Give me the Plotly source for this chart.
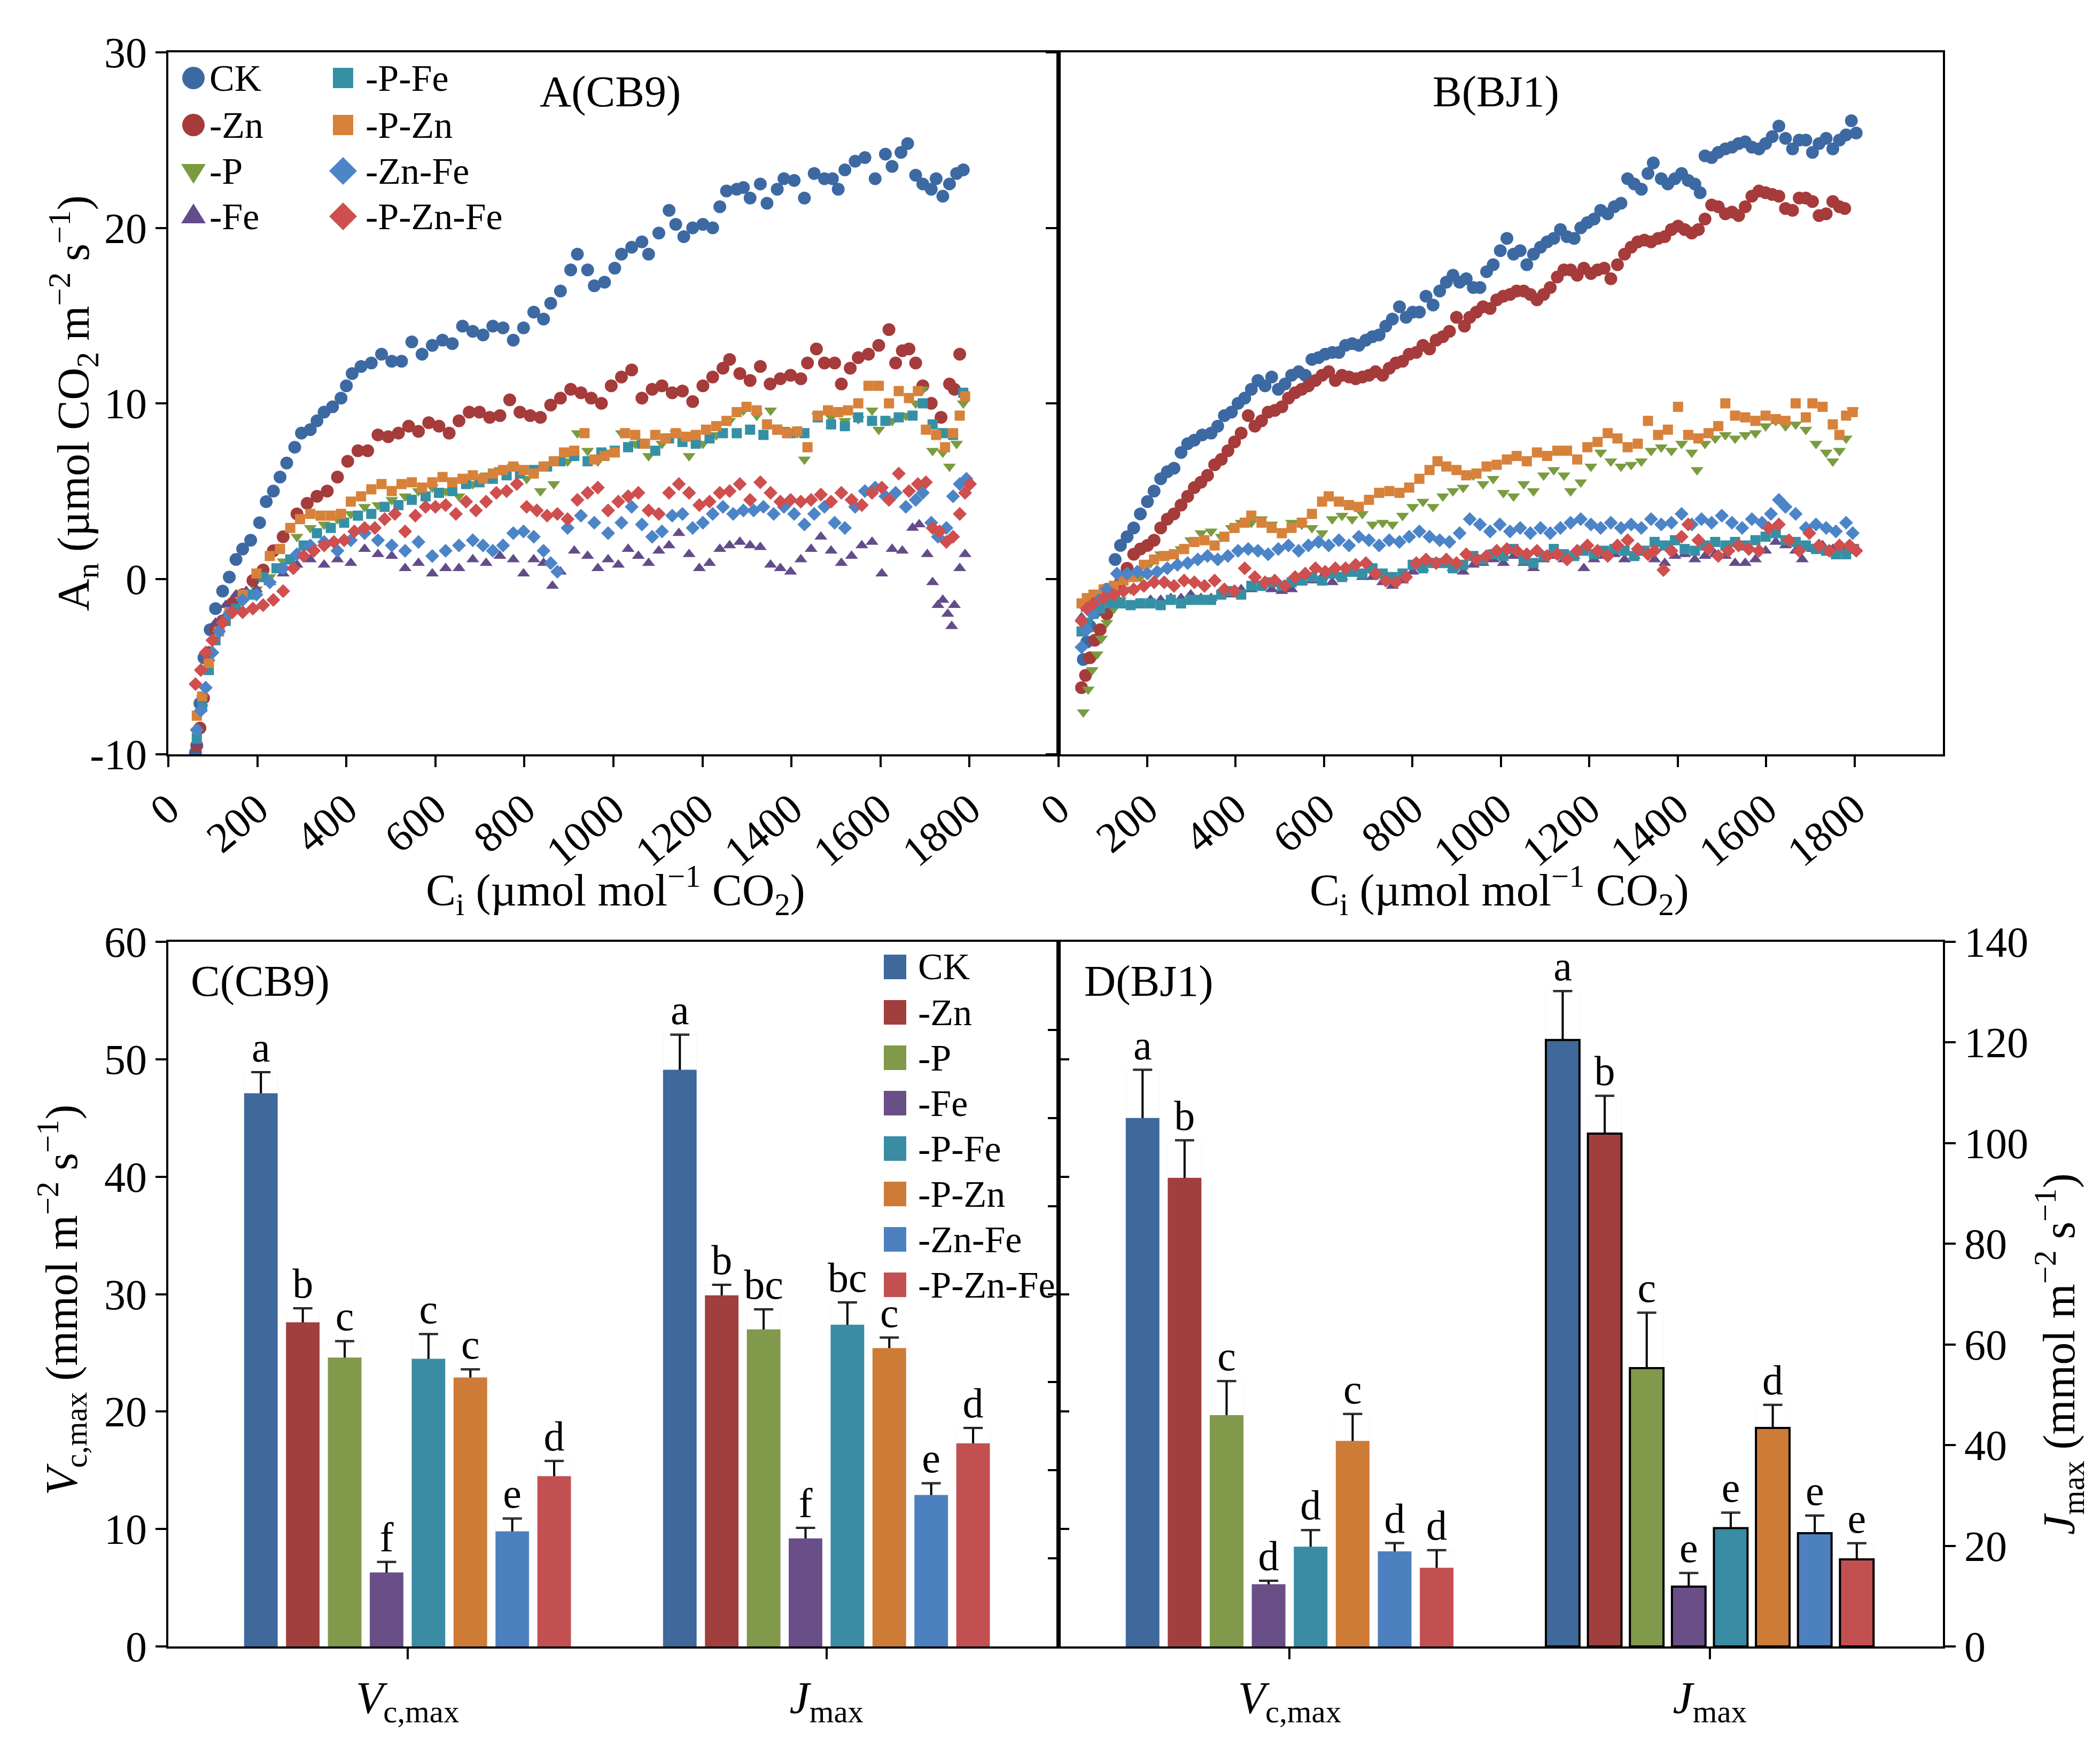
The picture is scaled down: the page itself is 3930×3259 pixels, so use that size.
import plotly.graph_objects as go

FONT = "Liberation Serif"
W, H = 3930, 3259
ML, MR, MT, MB = 307, 302, 90, 185
PW = W - ML - MR
PH = H - MT - MB


def px(x):
    return (x - ML) / PW


def py(y):
    return (H - MB - y) / PH


# ---------------- categories / styles ----------------
series_names = ["CK", "-Zn", "-P", "-Fe", "-P-Fe", "-P-Zn", "-Zn-Fe", "-P-Zn-Fe"]
marker_colors = ["#3D69A3", "#A53B3B", "#7B9B40", "#634C8A", "#3590A6", "#D7813A", "#4C84C8", "#CF4E4E"]
marker_symbols = ["circle", "circle", "triangle-down", "triangle-up", "square", "square", "diamond", "diamond"]
marker_sizes = [24, 24, 21, 21, 19, 19, 20, 20]
bar_colors = ["#3F689B", "#A13F3E", "#80994A", "#694E87", "#398CA3", "#CE7B37", "#4D80BF", "#C35050"]

ci_ticks = [0, 200, 400, 600, 800, 1000, 1200, 1400, 1600, 1800]
an_ticks = [-10, 0, 10, 20, 30]
an_ticktext = ["-10", "0", "10", "20", "30"]

# ---------------- Panel A (CB9) : Ci, An ----------------
A_CK_ci = [61, 71, 80, 94, 106, 122, 137, 152, 167, 185,
           205, 220, 236, 251, 266, 284, 299, 319, 334, 350,
           369, 388, 400, 413, 433, 456, 479, 502, 524, 547,
           570, 593, 616, 638, 661, 684, 707, 729, 752, 775,
           798, 821, 843, 859, 881, 904, 919, 942, 957, 980,
           1003, 1018, 1041, 1064, 1079, 1102, 1125, 1140, 1158, 1178,
           1201, 1223, 1239, 1254, 1277, 1292, 1307, 1330, 1345, 1368,
           1383, 1406, 1429, 1451, 1474, 1492, 1505, 1520, 1543, 1565,
           1588, 1611, 1626, 1646, 1661, 1679, 1695, 1714, 1725, 1740,
           1755, 1771, 1786]
A_CK_an = [-9.9, -7.1, -4.5, -2.9, -1.7, -0.7, 0.1, 1.1, 1.7, 2.2,
           3.2, 4.4, 5.0, 5.8, 6.6, 7.5, 8.3, 8.5, 9.0, 9.5,
           9.8, 10.3, 11.0, 11.7, 12.1, 12.3, 12.8, 12.4, 12.4, 13.5,
           12.8, 13.3, 13.6, 13.4, 14.4, 14.1, 13.9, 14.4, 14.3, 13.6,
           14.3, 15.2, 14.8, 15.7, 16.4, 17.6, 18.5, 17.6, 16.7, 16.9,
           17.7, 18.5, 18.9, 19.2, 18.5, 19.7, 21.0, 20.2, 19.5, 20.0,
           20.2, 20.0, 21.2, 22.1, 22.2, 22.3, 21.7, 22.5, 21.4, 22.2,
           22.8, 22.7, 21.7, 23.1, 22.8, 22.8, 22.2, 23.3, 23.8, 24.0,
           22.8, 24.2, 23.5, 24.3, 24.8, 23.0, 22.5, 22.2, 22.8, 21.8,
           22.5, 23.1, 23.3]

A_Zn_ci = [64, 71, 79, 91, 106, 122, 144, 167, 190, 213,
           236, 258, 289, 312, 334, 357, 380, 403, 426, 448,
           471, 494, 517, 540, 562, 585, 608, 631, 653, 676,
           699, 722, 745, 767, 790, 813, 836, 859, 881, 904,
           927, 950, 973, 995, 1018, 1041, 1064, 1087, 1109, 1132,
           1155, 1178, 1201, 1223, 1246, 1261, 1284, 1307, 1330, 1352,
           1375, 1398, 1421, 1436, 1456, 1474, 1497, 1512, 1532, 1550,
           1573, 1596, 1619, 1634, 1649, 1664, 1679, 1695, 1714, 1736,
           1755, 1766, 1778]
A_Zn_an = [-9.5, -8.5, -6.8, -4.2, -2.9, -2.4, -1.4, -0.9, -0.1, 0.5,
           1.6, 2.4, 3.7, 4.3, 4.7, 5.0, 5.8, 6.7, 7.3, 7.3,
           8.2, 8.1, 8.3, 8.7, 8.4, 8.9, 8.7, 8.3, 9.0, 9.5,
           9.5, 9.2, 9.3, 10.2, 9.5, 9.3, 9.2, 9.9, 10.3, 10.8,
           10.6, 10.3, 10.0, 11.0, 11.5, 11.9, 10.3, 10.8, 11.0, 10.6,
           10.7, 10.1, 11.0, 11.5, 12.0, 12.5, 11.7, 11.3, 12.1, 11.1,
           11.4, 11.6, 11.4, 12.3, 13.1, 12.3, 12.3, 11.1, 12.0, 12.6,
           12.8, 13.3, 14.2, 12.3, 13.0, 13.1, 12.3, 11.0, 10.0, 9.2,
           11.1, 10.8, 12.8]

A_P_ci = [64, 76, 91, 114, 137, 167, 198, 228, 258, 289,
          319, 350, 380, 410, 441, 471, 502, 532, 562, 593,
          623, 653, 684, 714, 745, 775, 805, 836, 866, 897,
          919, 942, 965, 988, 1018, 1049, 1079, 1109, 1140, 1170,
          1201, 1231, 1261, 1292, 1322, 1353, 1383, 1413, 1429, 1459,
          1489, 1520, 1550, 1581, 1596, 1626, 1657, 1679, 1695, 1717,
          1740, 1755, 1771, 1786]
A_P_an = [-8.8, -6.8, -4.8, -3.0, -2.0, -1.2, -0.6, 0.1, 1.0, 2.4,
          2.9, 3.1, 3.4, 3.7, 4.1, 4.2, 4.5, 4.7, 5.0, 5.2,
          5.0, 4.7, 5.4, 5.9, 6.2, 6.4, 5.7, 5.0, 5.4, 6.7,
          8.3, 7.3, 6.7, 7.2, 8.3, 7.7, 7.0, 7.7, 8.3, 7.0,
          7.7, 8.2, 9.0, 9.6, 9.3, 9.6, 8.5, 8.3, 6.8, 9.3,
          9.2, 9.0, 9.1, 9.6, 8.5, 9.0, 9.3, 10.0, 10.8, 7.3,
          7.2, 6.4, 7.7, 10.0]

A_Fe_ci = [64, 76, 91, 106, 129, 152, 175, 198, 228, 258,
           289, 319, 350, 380, 410, 441, 471, 502, 532, 562,
           593, 623, 653, 684, 714, 745, 775, 798, 821, 843,
           863, 881, 912, 942, 965, 988, 1011, 1033, 1056, 1079,
           1102, 1125, 1147, 1170, 1193, 1216, 1239, 1261, 1284, 1307,
           1330, 1353, 1375, 1398, 1421, 1444, 1466, 1489, 1512, 1535,
           1558, 1581, 1603, 1626, 1649, 1672, 1687, 1705, 1717, 1729,
           1740, 1751, 1760, 1766, 1778, 1790]
A_Fe_an = [-9.4, -7.1, -4.5, -2.5, -1.5, -0.9, -0.7, -0.6, -0.2, 0.3,
           0.8, 1.1, 0.8, 1.1, 0.9, 1.7, 1.4, 1.3, 0.6, 0.9,
           0.3, 0.6, 0.6, 1.1, 0.9, 1.3, 1.1, 0.3, 1.1, 0.9,
           -0.4, 0.4, 1.6, 1.3, 0.6, 1.1, 0.8, 1.7, 1.3, 0.9,
           1.6, 1.9, 2.6, 1.4, 0.6, 0.9, 1.7, 1.9, 2.1, 1.9,
           1.8, 0.8, 0.6, 0.4, 1.1, 1.7, 2.4, 1.6, 0.9, 1.3,
           1.9, 2.1, 0.3, 1.7, 1.6, 2.9, 3.1, 1.4, -0.2, -1.5,
           -1.2, -2.0, -2.7, -1.5, 0.6, 1.4]

A_PFe_ci = [64, 76, 91, 106, 129, 152, 182, 213, 243, 274,
            304, 334, 365, 395, 426, 456, 486, 517, 547, 578,
            608, 638, 669, 699, 729, 760, 790, 821, 851, 881,
            912, 942, 973, 1003, 1033, 1064, 1094, 1125, 1155, 1185,
            1216, 1246, 1277, 1307, 1337, 1368, 1398, 1429, 1459, 1489,
            1520, 1550, 1581, 1611, 1641, 1672, 1695, 1717, 1740, 1763,
            1786]
A_PFe_an = [-9.1, -7.3, -5.2, -3.5, -2.4, -1.7, -0.9, 0.1, 0.6, 1.1,
            1.9, 2.6, 2.9, 3.2, 3.6, 3.7, 4.1, 4.2, 4.5, 4.7,
            4.9, 5.0, 5.4, 5.5, 5.7, 5.9, 6.0, 6.2, 6.4, 6.7,
            7.0, 6.7, 7.2, 7.3, 7.5, 7.7, 7.3, 8.0, 7.8, 7.7,
            8.0, 8.3, 8.3, 8.5, 8.2, 8.5, 8.3, 8.3, 9.2, 8.8,
            8.7, 9.2, 9.0, 9.0, 9.2, 9.3, 10.0, 8.8, 8.3, 8.2,
            10.6]

A_PZn_ci = [64, 76, 91, 114, 137, 167, 198, 228, 251, 274,
            296, 319, 342, 365, 388, 410, 433, 456, 479, 502,
            524, 547, 570, 593, 616, 638, 661, 684, 707, 729,
            752, 775, 798, 821, 843, 866, 889, 912, 935, 957,
            980, 1003, 1026, 1049, 1071, 1094, 1117, 1140, 1163, 1185,
            1208, 1231, 1254, 1277, 1299, 1322, 1345, 1368, 1390, 1413,
            1436, 1459, 1482, 1505, 1527, 1550, 1573, 1596, 1619, 1641,
            1664, 1684, 1702, 1725, 1745, 1763, 1778, 1790]
A_PZn_an = [-7.8, -6.7, -4.8, -3.0, -1.9, -0.9, 0.3, 1.3, 1.7, 2.9,
            3.4, 3.7, 3.6, 3.6, 3.7, 4.4, 4.7, 5.1, 5.4, 5.0,
            5.4, 5.5, 5.2, 5.5, 5.8, 5.5, 5.7, 5.9, 5.7, 6.0,
            6.2, 6.4, 6.2, 6.0, 6.4, 6.7, 7.2, 7.3, 8.3, 6.8,
            7.0, 7.2, 8.3, 8.2, 7.7, 8.2, 8.0, 8.3, 8.1, 8.2,
            8.5, 8.7, 9.0, 9.5, 9.8, 9.6, 8.8, 8.5, 8.3, 8.4,
            7.5, 9.3, 9.6, 9.5, 9.6, 10.0, 11.0, 11.0, 10.0, 10.7,
            10.3, 10.7, 8.5, 8.2, 7.5, 8.3, 9.3, 10.4]

A_ZnFe_ci = [64, 73, 84, 99, 114, 137, 167, 198, 228, 258,
             289, 319, 350, 380, 410, 441, 471, 502, 532, 562,
             593, 623, 653, 684, 707, 729, 752, 775, 798, 821,
             843, 859, 874, 897, 927, 957, 988, 1018, 1041, 1064,
             1087, 1109, 1132, 1155, 1178, 1201, 1223, 1246, 1269, 1292,
             1315, 1337, 1360, 1383, 1406, 1429, 1451, 1474, 1497, 1520,
             1543, 1565, 1588, 1611, 1634, 1657, 1679, 1695, 1714, 1729,
             1748, 1763, 1778, 1793]
A_ZnFe_an = [-8.6, -7.5, -6.2, -4.2, -3.0, -2.0, -1.2, -0.9, -0.2, 0.6,
             1.4, 1.9, 2.1, 1.6, 2.2, 2.6, 2.2, 1.9, 1.6, 2.1,
             1.3, 1.6, 1.9, 2.2, 1.9, 1.6, 1.9, 2.6, 2.7, 2.4,
             1.6, 0.9, 0.4, 2.9, 3.6, 3.2, 2.6, 3.2, 4.1, 3.1,
             2.4, 2.7, 3.6, 3.7, 2.9, 3.2, 3.7, 4.1, 3.7, 3.9,
             3.9, 4.1, 3.7, 4.1, 3.7, 3.1, 3.7, 4.1, 3.2, 2.9,
             4.1, 5.0, 5.2, 4.7, 4.9, 4.1, 4.5, 4.9, 3.2, 2.4,
             2.9, 4.7, 5.4, 5.7]

A_PZnFe_ci = [61, 73, 84, 99, 122, 144, 167, 190, 213, 236,
              258, 281, 304, 327, 350, 372, 395, 418, 441, 464,
              486, 509, 532, 555, 578, 600, 623, 646, 669, 691,
              714, 737, 760, 783, 805, 828, 851, 874, 897, 919,
              942, 965, 988, 1011, 1033, 1056, 1079, 1102, 1125, 1147,
              1170, 1193, 1216, 1239, 1261, 1284, 1307, 1330, 1353, 1375,
              1398, 1421, 1444, 1466, 1489, 1512, 1535, 1558, 1581, 1603,
              1619, 1641, 1664, 1684, 1702, 1717, 1733, 1748, 1763, 1778,
              1790, 1801]
A_PZnFe_an = [-6.0, -5.2, -4.2, -3.5, -2.5, -1.9, -1.9, -1.7, -1.5, -1.2,
              -0.7, 0.6, 1.3, 1.6, 1.9, 2.1, 2.2, 2.7, 2.9, 2.9,
              3.4, 3.7, 2.7, 3.6, 4.1, 4.1, 4.2, 3.7, 4.4, 3.9,
              4.4, 4.9, 5.0, 5.4, 4.1, 3.9, 3.6, 3.7, 3.4, 4.5,
              4.9, 5.2, 3.9, 4.4, 4.7, 4.9, 3.9, 3.7, 4.9, 5.4,
              4.9, 4.2, 4.4, 4.9, 5.0, 5.4, 4.5, 5.5, 4.9, 4.4,
              4.5, 4.4, 4.5, 4.8, 4.4, 4.9, 4.5, 4.2, 4.9, 5.2,
              4.5, 6.0, 5.0, 5.4, 5.5, 2.9, 2.7, 2.1, 2.4, 3.7,
              4.9, 5.4]

# ---------------- Panel B (BJ1) : Ci, An ----------------
B_CK_ci = [56, 64, 71, 82, 94, 109, 128, 140, 155, 170,
           185, 201, 216, 231, 246, 261, 277, 292, 307, 325,
           345, 360, 375, 391, 406, 421, 436, 451, 467, 482,
           497, 512, 527, 543, 558, 573, 588, 603, 619, 634,
           649, 664, 679, 695, 710, 725, 740, 755, 771, 786,
           801, 816, 831, 847, 862, 877, 892, 907, 922, 938,
           953, 968, 983, 999, 1014, 1029, 1044, 1059, 1074, 1090,
           1105, 1120, 1135, 1150, 1166, 1181, 1196, 1211, 1226, 1242,
           1257, 1272, 1287, 1302, 1318, 1333, 1345, 1363, 1378, 1394,
           1409, 1424, 1439, 1451, 1462, 1477, 1492, 1508, 1523, 1538,
           1553, 1568, 1584, 1599, 1614, 1629, 1644, 1660, 1675, 1690,
           1705, 1720, 1736, 1751, 1766, 1781, 1793, 1804]
B_CK_an = [-4.6, -3.6, -2.7, -1.9, -1.2, -0.6, 1.1, 1.9, 2.4, 2.9,
           3.7, 4.4, 5.0, 5.7, 6.1, 6.3, 7.2, 7.7, 7.9, 8.2,
           8.3, 8.7, 9.3, 9.5, 10.0, 10.3, 10.8, 11.3, 11.0, 11.5,
           10.8, 11.1, 11.6, 11.8, 11.6, 12.5, 12.6, 12.8, 12.9, 12.9,
           13.3, 13.4, 13.3, 13.6, 13.8, 13.9, 14.4, 14.8, 15.5, 14.9,
           15.2, 15.2, 16.1, 15.6, 16.4, 16.9, 17.3, 16.9, 17.1, 16.6,
           16.6, 17.5, 17.9, 18.7, 19.4, 18.5, 18.7, 17.9, 18.5, 18.9,
           19.2, 19.4, 19.9, 19.5, 19.4, 20.0, 20.3, 20.5, 21.0, 20.8,
           21.2, 21.4, 22.8, 22.5, 22.2, 23.1, 23.7, 22.8, 22.5, 22.8,
           23.1, 22.7, 22.5, 22.0, 24.1, 24.0, 24.3, 24.5, 24.6, 24.8,
           24.9, 24.6, 24.5, 24.8, 25.2, 25.8, 25.1, 24.5, 25.0, 25.0,
           24.3, 24.8, 25.1, 24.5, 25.0, 25.3, 26.1, 25.4]

B_Zn_ci = [52, 61, 71, 82, 94, 109, 125, 140, 155, 170,
           185, 201, 216, 231, 246, 261, 277, 292, 307, 322,
           337, 353, 368, 383, 398, 413, 429, 444, 459, 474,
           489, 505, 520, 535, 550, 565, 581, 596, 611, 626,
           641, 657, 672, 687, 702, 717, 733, 748, 763, 778,
           793, 809, 824, 839, 854, 869, 884, 900, 918, 930,
           945, 960, 976, 991, 1006, 1021, 1036, 1052, 1067, 1082,
           1097, 1112, 1128, 1143, 1158, 1173, 1188, 1204, 1219, 1234,
           1249, 1264, 1280, 1295, 1310, 1325, 1340, 1356, 1371, 1386,
           1401, 1416, 1432, 1447, 1462, 1477, 1492, 1508, 1523, 1538,
           1553, 1568, 1584, 1599, 1614, 1629, 1644, 1660, 1675, 1690,
           1705, 1720, 1736, 1751, 1766, 1778]
B_Zn_an = [-6.2, -5.5, -4.5, -3.5, -2.9, -2.0, -1.1, -0.2, 0.6, 1.4,
           1.7, 1.9, 2.2, 2.9, 3.4, 3.7, 4.2, 4.7, 5.2, 5.5,
           5.9, 6.5, 6.8, 7.3, 7.8, 8.3, 9.3, 8.7, 9.0, 9.5,
           9.6, 9.8, 10.3, 10.6, 10.8, 11.0, 11.3, 11.6, 11.8, 11.3,
           11.6, 11.5, 11.4, 11.5, 11.6, 11.8, 11.6, 12.0, 12.3, 12.4,
           12.8, 12.9, 13.3, 13.1, 13.6, 13.8, 14.1, 14.9, 14.4, 14.9,
           15.2, 15.5, 15.4, 15.9, 16.1, 16.2, 16.4, 16.4, 16.2, 15.9,
           16.2, 16.6, 17.2, 17.6, 17.6, 17.3, 17.7, 17.4, 17.6, 17.7,
           17.1, 17.9, 18.5, 18.9, 19.2, 19.3, 19.2, 19.4, 19.5, 19.9,
           20.1, 19.9, 19.7, 19.9, 20.5, 21.3, 21.2, 20.8, 20.9, 20.7,
           21.2, 21.8, 22.1, 22.0, 21.9, 21.8, 21.1, 21.0, 21.7, 21.7,
           21.5, 20.7, 20.8, 21.5, 21.2, 21.1]

B_P_ci = [56, 67, 76, 87, 97, 109, 125, 140, 163, 185,
          208, 231, 254, 277, 299, 322, 345, 368, 391, 413,
          436, 459, 482, 505, 527, 550, 573, 596, 619, 641,
          664, 687, 710, 733, 755, 778, 801, 824, 847, 869,
          892, 915, 938, 960, 983, 1006, 1029, 1052, 1074, 1097,
          1120, 1143, 1158, 1181, 1204, 1226, 1249, 1272, 1295, 1318,
          1340, 1363, 1386, 1409, 1432, 1444, 1462, 1485, 1508, 1530,
          1553, 1576, 1599, 1622, 1644, 1667, 1690, 1713, 1736, 1751,
          1766, 1781, 1796]
B_P_an = [-7.6, -6.3, -5.2, -4.3, -3.4, -2.5, -1.7, -1.2, -0.6, 0.1,
          0.9, 1.4, 1.4, 1.7, 2.2, 2.6, 2.7, 2.4, 2.9, 3.2,
          3.2, 3.4, 3.1, 2.7, 3.2, 3.1, 2.9, 2.6, 3.4, 3.6,
          3.4, 3.7, 3.1, 3.2, 3.1, 3.6, 4.1, 4.4, 4.1, 4.7,
          5.0, 5.2, 5.9, 5.4, 5.7, 4.9, 4.7, 5.4, 5.0, 5.9,
          6.2, 5.9, 5.0, 5.5, 6.4, 7.2, 6.7, 6.4, 6.5, 6.7,
          7.3, 7.5, 7.3, 7.7, 7.2, 6.2, 7.7, 8.0, 8.2, 8.0,
          8.2, 8.3, 8.7, 9.0, 8.7, 8.8, 8.5, 7.7, 7.2, 6.7,
          7.3, 8.0, 9.6]

B_Fe_ci = [52, 64, 79, 94, 117, 140, 163, 185, 208, 231,
           254, 277, 299, 322, 345, 368, 391, 413, 436, 459,
           482, 505, 527, 550, 573, 596, 619, 641, 664, 687,
           710, 733, 755, 778, 801, 824, 847, 869, 892, 915,
           938, 960, 983, 1006, 1029, 1052, 1074, 1097, 1120, 1143,
           1166, 1188, 1211, 1234, 1257, 1280, 1302, 1325, 1348, 1371,
           1394, 1416, 1439, 1462, 1485, 1508, 1530, 1553, 1576, 1599,
           1622, 1644, 1667, 1682, 1705, 1728, 1751, 1774, 1796]
B_Fe_an = [-2.2, -1.7, -1.4, -1.2, -1.1, -1.4, -1.5, -1.4, -1.2, -1.2,
           -1.1, -1.1, -0.9, -1.1, -1.1, -0.9, -0.9, -0.6, -0.6, -0.4,
           -0.6, -0.7, -0.6, -0.2, -0.1, 0.1, -0.2, 0.1, 0.3, 0.1,
           0.1, -0.2, -0.4, -0.1, 0.4, 0.6, 0.9, 0.8, 0.6, 0.4,
           0.8, 0.9, 1.1, 0.9, 1.3, 0.9, 0.6, 1.1, 1.3, 1.1,
           1.3, 0.6, 1.1, 1.3, 1.4, 1.1, 1.3, 1.6, 1.1, 0.9,
           1.3, 1.4, 1.1, 1.3, 1.4, 1.3, 0.9, 0.9, 1.1, 1.6,
           2.1, 1.9, 1.6, 1.1, 1.7, 1.9, 1.7, 1.6, 1.6]

B_PFe_ci = [52, 64, 79, 94, 117, 140, 163, 185, 208, 231,
            254, 277, 299, 322, 345, 368, 391, 413, 436, 459,
            482, 505, 527, 550, 573, 596, 619, 641, 664, 687,
            710, 733, 755, 778, 801, 824, 847, 869, 892, 915,
            938, 960, 983, 1006, 1029, 1052, 1074, 1097, 1120, 1143,
            1166, 1188, 1211, 1234, 1257, 1280, 1302, 1325, 1348, 1371,
            1394, 1416, 1439, 1462, 1485, 1508, 1530, 1553, 1576, 1599,
            1622, 1644, 1667, 1690, 1713, 1736, 1758, 1781, 1799]
B_PFe_an = [-3.0, -2.5, -2.0, -1.7, -1.4, -1.4, -1.5, -1.4, -1.4, -1.5,
            -1.2, -1.4, -1.2, -1.2, -1.2, -0.9, -0.7, -0.9, -0.4, -0.4,
            -0.2, -0.4, -0.2, -0.1, 0.1, -0.1, 0.3, 0.1, 0.4, 0.3,
            0.6, 0.3, 0.1, 0.3, 0.8, 0.6, 0.9, 0.9, 0.6, 0.8,
            1.3, 1.1, 1.4, 1.3, 1.7, 1.1, 0.9, 1.3, 1.7, 1.4,
            1.3, 1.6, 1.4, 1.6, 1.7, 1.6, 1.3, 1.6, 2.1, 1.9,
            2.2, 1.7, 1.6, 1.9, 2.1, 1.9, 2.1, 1.9, 2.2, 2.4,
            2.6, 2.2, 2.1, 1.9, 1.7, 1.6, 1.4, 1.4, 1.7]

B_PZn_ci = [52, 64, 79, 102, 125, 147, 170, 193, 216, 239,
            261, 284, 307, 330, 353, 375, 398, 421, 436, 459,
            482, 505, 527, 550, 573, 596, 611, 634, 657, 679,
            702, 725, 748, 771, 793, 816, 839, 857, 877, 900,
            922, 945, 968, 991, 1014, 1036, 1059, 1082, 1105, 1128,
            1150, 1173, 1196, 1219, 1242, 1264, 1287, 1310, 1333, 1356,
            1378, 1401, 1424, 1447, 1470, 1492, 1508, 1530, 1553, 1576,
            1599, 1622, 1644, 1667, 1690, 1705, 1728, 1751, 1766, 1781,
            1796]
B_PZn_an = [-1.4, -1.1, -0.9, -0.6, -0.4, -0.1, 0.1, 0.8, 1.1, 1.3,
            1.4, 1.7, 2.1, 2.2, 1.9, 2.4, 2.9, 3.2, 3.6, 3.2,
            2.9, 2.6, 2.9, 3.2, 3.7, 4.4, 4.7, 4.4, 4.2, 4.1,
            4.5, 4.9, 5.0, 4.9, 5.2, 5.7, 6.2, 6.7, 6.4, 6.2,
            5.9, 6.0, 6.4, 6.5, 6.8, 7.0, 6.7, 7.2, 7.0, 7.3,
            7.3, 6.8, 7.5, 7.8, 8.3, 8.0, 7.5, 7.7, 9.0, 8.2,
            8.5, 9.8, 8.2, 8.0, 8.3, 8.7, 10.0, 9.3, 9.2, 9.0,
            9.3, 9.1, 9.0, 10.0, 9.2, 10.0, 9.8, 8.8, 8.2, 9.3,
            9.5]

B_ZnFe_ci = [52, 64, 76, 91, 109, 132, 155, 178, 201, 223,
             246, 269, 292, 315, 337, 360, 383, 406, 429, 451,
             474, 497, 520, 543, 565, 588, 611, 634, 657, 679,
             702, 725, 748, 771, 793, 816, 839, 862, 884, 907,
             930, 953, 976, 998, 1021, 1044, 1067, 1090, 1112, 1135,
             1158, 1181, 1204, 1226, 1249, 1272, 1295, 1318, 1340, 1363,
             1386, 1409, 1432, 1454, 1477, 1500, 1523, 1546, 1568, 1591,
             1611, 1629, 1644, 1667, 1690, 1713, 1736, 1758, 1781, 1796]
B_ZnFe_an = [-3.9, -2.9, -2.0, -1.2, -0.6, 0.3, 0.3, 0.4, 0.3, 0.4,
             0.6, 0.8, 0.9, 1.1, 1.3, 1.1, 1.3, 1.6, 1.7, 1.6,
             1.4, 1.7, 1.9, 1.6, 1.9, 2.1, 1.9, 2.2, 1.9, 2.4,
             2.2, 1.9, 2.2, 2.1, 2.4, 2.7, 2.4, 2.2, 2.1, 2.6,
             3.4, 3.1, 2.7, 3.1, 2.7, 2.9, 2.6, 2.9, 2.6, 2.9,
             3.2, 3.4, 3.1, 2.9, 3.2, 2.9, 3.1, 2.9, 3.4, 3.1,
             3.2, 3.7, 3.1, 3.4, 3.2, 3.6, 3.2, 2.9, 3.4, 3.2,
             3.7, 4.5, 4.1, 3.7, 2.9, 3.1, 2.9, 2.7, 3.2, 2.6]

B_PZnFe_ci = [52, 64, 79, 102, 125, 147, 170, 193, 216, 239,
              261, 284, 307, 330, 353, 375, 398, 421, 444, 467,
              489, 512, 535, 558, 581, 603, 626, 649, 672, 695,
              717, 740, 763, 786, 809, 831, 854, 877, 900, 922,
              945, 968, 991, 1014, 1036, 1059, 1082, 1105, 1128, 1150,
              1173, 1196, 1219, 1242, 1264, 1287, 1310, 1333, 1348, 1368,
              1386, 1409, 1424, 1447, 1470, 1492, 1515, 1538, 1561, 1584,
              1606, 1629, 1652, 1675, 1698, 1720, 1743, 1766, 1789, 1804]
B_PZnFe_an = [-2.4, -1.7, -1.4, -1.1, -0.9, -0.7, -0.6, -0.4, -0.2, -0.2,
              -0.4, -0.1, -0.2, -0.4, -0.1, -0.6, -0.7, 0.6, 0.1, -0.2,
              -0.1, -0.4, 0.1, 0.3, 0.6, 0.4, 0.6, 0.6, 0.8, 0.9,
              0.3, -0.1, -0.2, 0.1, 0.9, 1.1, 0.9, 1.1, 0.9, 1.4,
              1.1, 1.3, 1.6, 1.7, 1.6, 1.4, 1.6, 1.3, 1.4, 1.1,
              1.6, 1.9, 1.6, 1.3, 1.9, 2.2, 1.7, 1.4, 1.6, 0.5,
              1.6, 2.4, 3.1, 2.2, 1.7, 1.3, 1.6, 1.9, 1.7, 1.6,
              2.9, 3.1, 2.2, 1.6, 2.6, 1.9, 1.6, 1.9, 1.9, 1.6]

# ---------------- Panels C / D : bar values ----------------
bar_positions = [1, 2]
bar_ticktext = ["<i>V</i><sub>c,max</sub>", "<i>J</i><sub>max</sub>"]

C_vc = [47.1, 27.6, 24.6, 6.3, 24.5, 22.9, 9.8, 14.5]
C_vc_err = [1.8, 1.2, 1.4, 0.9, 2.1, 0.7, 1.1, 1.3]
C_vc_let = ["a", "b", "c", "f", "c", "c", "e", "d"]
C_jm = [49.1, 29.9, 27.0, 9.2, 27.4, 25.4, 12.9, 17.3]
C_jm_err = [3.0, 0.9, 1.7, 0.9, 1.9, 0.9, 1.0, 1.3]
C_jm_let = ["a", "b", "bc", "f", "bc", "c", "e", "d"]

D_vc = [45.0, 39.9, 19.7, 5.3, 8.5, 17.5, 8.1, 6.7]
D_vc_err = [4.1, 3.2, 2.9, 0.3, 1.4, 2.3, 0.7, 1.5]
D_vc_let = ["a", "b", "c", "d", "d", "c", "d", "d"]
D_jm = [120.5, 101.9, 55.3, 11.9, 23.5, 43.4, 22.5, 17.3]
D_jm_err = [9.7, 7.5, 11.0, 2.7, 3.1, 4.6, 3.5, 3.2]
D_jm_let = ["a", "b", "c", "e", "e", "d", "e", "e"]

A_series = [(A_CK_ci, A_CK_an), (A_Zn_ci, A_Zn_an), (A_P_ci, A_P_an), (A_Fe_ci, A_Fe_an),
            (A_PFe_ci, A_PFe_an), (A_PZn_ci, A_PZn_an), (A_ZnFe_ci, A_ZnFe_an), (A_PZnFe_ci, A_PZnFe_an)]
B_series = [(B_CK_ci, B_CK_an), (B_Zn_ci, B_Zn_an), (B_P_ci, B_P_an), (B_Fe_ci, B_Fe_an),
            (B_PFe_ci, B_PFe_an), (B_PZn_ci, B_PZn_an), (B_ZnFe_ci, B_ZnFe_an), (B_PZnFe_ci, B_PZnFe_an)]

fig = go.Figure()

# scatter panels
for (xa, ya, data) in [("x", "y", A_series), ("x2", "y2", B_series)]:
    for i, (ci, an) in enumerate(data):
        fig.add_trace(go.Scatter(
            x=ci, y=an, mode="markers", name=series_names[i],
            marker=dict(symbol=marker_symbols[i], size=marker_sizes[i],
                        color=marker_colors[i], line=dict(width=0)),
            xaxis=xa, yaxis=ya, showlegend=False, hoverinfo="skip"))

CLEAR = "rgba(0,0,0,0)"
ERR = dict(type="data", symmetric=True, color="black", thickness=4, width=18)
LET_FONT = dict(family=FONT, size=78, color="black")


def err_trace(xs, vals, errs, name, xa, ya):
    return go.Bar(x=xs, y=vals, error_y=dict(ERR, array=errs), marker=dict(color=CLEAR),
                  offsetgroup=name, xaxis=xa, yaxis=ya, showlegend=False, hoverinfo="skip")


def letter_trace(xs, vals, errs, letters, name, xa, ya):
    return go.Bar(x=xs, y=[v + e for v, e in zip(vals, errs)], text=letters,
                  textposition="outside", textangle=0, constraintext="none", cliponaxis=False,
                  textfont=LET_FONT, marker=dict(color=CLEAR),
                  offsetgroup=name, xaxis=xa, yaxis=ya, showlegend=False, hoverinfo="skip")


# --- Panel C: error bars + letters (base layer), bars above (overlay axis y7)
for i, nm in enumerate(series_names):
    fig.add_trace(err_trace(bar_positions, [C_vc[i], C_jm[i]], [C_vc_err[i], C_jm_err[i]], nm, "x3", "y3"))
    fig.add_trace(letter_trace(bar_positions, [C_vc[i], C_jm[i]], [C_vc_err[i], C_jm_err[i]],
                               [C_vc_let[i], C_jm_let[i]], nm, "x3", "y3"))
fig.add_trace(go.Scatter(x=[], y=[], xaxis="x3", yaxis="y5", showlegend=False))
for i, nm in enumerate(series_names):
    fig.add_trace(go.Bar(x=bar_positions, y=[C_vc[i], C_jm[i]], marker=dict(color=bar_colors[i], line=dict(width=0)),
                         offsetgroup=nm, xaxis="x3", yaxis="y7", showlegend=False, hoverinfo="skip"))

# --- Panel D
for i, nm in enumerate(series_names):
    fig.add_trace(err_trace([bar_positions[0]], [D_vc[i]], [D_vc_err[i]], nm, "x4", "y4"))
    fig.add_trace(letter_trace([bar_positions[0]], [D_vc[i]], [D_vc_err[i]], [D_vc_let[i]], nm, "x4", "y4"))
for i, nm in enumerate(series_names):
    fig.add_trace(err_trace([bar_positions[1]], [D_jm[i]], [D_jm_err[i]], nm, "x4", "y6"))
    fig.add_trace(letter_trace([bar_positions[1]], [D_jm[i]], [D_jm_err[i]], [D_jm_let[i]], nm, "x4", "y6"))
for i, nm in enumerate(series_names):
    fig.add_trace(go.Bar(x=[bar_positions[0]], y=[D_vc[i]], marker=dict(color=bar_colors[i], line=dict(width=0)),
                         offsetgroup=nm, xaxis="x4", yaxis="y8", showlegend=False, hoverinfo="skip"))
for i, nm in enumerate(series_names):
    fig.add_trace(go.Bar(x=[bar_positions[1]], y=[D_jm[i]],
                         marker=dict(color=bar_colors[i], line=dict(width=4, color="black")),
                         offsetgroup=nm, xaxis="x4", yaxis="y9", showlegend=False, hoverinfo="skip"))

# ---------------- axes ----------------
XB = px(1973)
YT0 = py(1404)
YB1 = py(1755)
TICKFONT = dict(family=FONT, size=80, color="black")
AX = dict(showline=True, linecolor="black", linewidth=4, ticks="outside", ticklen=20,
          tickwidth=4, tickcolor="black", showgrid=False, zeroline=False, tickfont=TICKFONT)

layout_axes = dict(
    xaxis=dict(AX, domain=[0, XB], anchor="y", range=[0, 2000], tickmode="array",
               tickvals=ci_ticks, ticktext=[str(v) for v in ci_ticks], tickangle=-40, mirror=True),
    yaxis=dict(AX, domain=[YT0, 1], anchor="x", range=[-10, 30], tickmode="array",
               tickvals=an_ticks, ticktext=an_ticktext, mirror=True),
    xaxis2=dict(AX, domain=[XB, 1], anchor="y2", range=[0, 2000], tickmode="array",
                tickvals=ci_ticks, ticktext=[str(v) for v in ci_ticks], tickangle=-40, mirror=True),
    yaxis2=dict(AX, domain=[YT0, 1], anchor="x2", range=[-10, 30], tickmode="array",
                tickvals=an_ticks, showticklabels=False, mirror=True),
    xaxis3=dict(AX, domain=[0, XB], anchor="y3", range=[0.429, 2.554], tickmode="array",
                tickvals=bar_positions, ticktext=bar_ticktext, mirror=True,
                tickfont=dict(family=FONT, size=84, color="black")),
    yaxis3=dict(AX, domain=[0, YB1], anchor="x3", range=[0, 60], tickmode="array",
                tickvals=[0, 10, 20, 30, 40, 50, 60]),
    yaxis5=dict(AX, overlaying="y3", side="right", anchor="x3", range=[0, 80], tickmode="array",
                tickvals=[0, 10, 20, 30, 40, 50, 60, 70, 80], ticks="inside", showticklabels=False),
    yaxis7=dict(overlaying="y3", anchor="x3", range=[0, 60], visible=False),
    xaxis4=dict(AX, domain=[XB, 1], anchor="y4", range=[0.45, 2.555], tickmode="array",
                tickvals=bar_positions, ticktext=bar_ticktext, mirror=True,
                tickfont=dict(family=FONT, size=84, color="black")),
    yaxis4=dict(AX, domain=[0, YB1], anchor="x4", range=[0, 60], tickmode="array",
                tickvals=[0, 10, 20, 30, 40, 50, 60], ticks="inside", showticklabels=False),
    yaxis6=dict(AX, overlaying="y4", side="right", anchor="x4", range=[0, 140], tickmode="array",
                tickvals=[0, 20, 40, 60, 80, 100, 120, 140]),
    yaxis8=dict(overlaying="y4", anchor="x4", range=[0, 60], visible=False),
    yaxis9=dict(overlaying="y4", anchor="x4", range=[0, 140], visible=False),
)

# ---------------- annotations (titles, panel labels, legends) ----------------
TF = dict(family=FONT, size=84, color="black")
PL = dict(family=FONT, size=82, color="black")
annotations = [
    dict(text="A(CB9)", x=px(1134), y=py(163), font=PL),
    dict(text="B(BJ1)", x=px(2791), y=py(163), font=PL),
    dict(text="C(CB9)", x=px(347), y=py(1828), xanchor="left", font=PL),
    dict(text="D(BJ1)", x=px(2019), y=py(1828), xanchor="left", font=PL),
    dict(text="A<sub>n</sub> (µmol CO<sub>2</sub> m<sup>−2</sup> s<sup>−1</sup>)", x=px(130), y=py(747),
         textangle=-90, font=TF),
    dict(text="C<sub>i</sub> (µmol mol<sup>−1</sup> CO<sub>2</sub>)", x=px(1144), y=py(1659), font=TF),
    dict(text="C<sub>i</sub> (µmol mol<sup>−1</sup> CO<sub>2</sub>)", x=px(2798), y=py(1659), font=TF),
    dict(text="<i>V</i><sub>c,max</sub> (mmol m<sup>−2</sup> s<sup>−1</sup>)", x=px(108), y=py(2426),
         textangle=-90, font=TF),
    dict(text="<i>J</i><sub>max</sub> (mmol m<sup>−2</sup> s<sup>−1</sup>)", x=px(3846), y=py(2527),
         textangle=-90, font=TF),
]
for a in annotations:
    a.setdefault("xanchor", "center")
    a.update(xref="paper", yref="paper", yanchor="middle", showarrow=False)

LEGF = dict(family=FONT, size=70, color="black")
shapes = []


def sym_shape(symbol, cx, cy, color):
    base = dict(xref="paper", yref="paper", xsizemode="pixel", ysizemode="pixel",
                xanchor=cx, yanchor=cy, fillcolor=color, line=dict(width=0))
    if symbol == "circle":
        return dict(base, type="circle", x0=-21, x1=21, y0=-21, y1=21)
    if symbol == "square":
        return dict(base, type="rect", x0=-19, x1=19, y0=-19, y1=19)
    if symbol == "triangle-down":
        return dict(base, type="path", path="M -23 13 L 23 13 L 0 -24 Z")
    if symbol == "triangle-up":
        return dict(base, type="path", path="M -23 -13 L 23 -13 L 0 24 Z")
    return dict(base, type="path", path="M 0 26 L 26 0 L 0 -26 L -26 0 Z")


leg_rows = [138, 226, 312, 397]
for i, nm in enumerate(series_names):
    col, row = divmod(i, 4)
    sx = px(354) if col == 0 else px(634)
    tx = px(382) if col == 0 else px(674)
    yy = py(leg_rows[row])
    shapes.append(sym_shape(marker_symbols[i], sx, yy, marker_colors[i]))
    annotations.append(dict(text=nm, x=tx, y=yy, xref="paper", yref="paper", xanchor="left",
                            yanchor="middle", showarrow=False, font=LEGF))

# bar legend in panel C
for i, nm in enumerate(series_names):
    yy = py(1802 + 85 * i)
    shapes.append(dict(type="rect", xref="paper", yref="paper", xsizemode="pixel", ysizemode="pixel",
                       xanchor=px(1667), yanchor=yy, x0=-21, x1=21, y0=-23, y1=23,
                       fillcolor=bar_colors[i], line=dict(width=0)))
    annotations.append(dict(text=nm, x=px(1708), y=yy, xref="paper", yref="paper", xanchor="left",
                            yanchor="middle", showarrow=False, font=LEGF))

fig.update_layout(
    width=W, height=H, autosize=False,
    margin=dict(l=ML, r=MR, t=MT, b=MB, pad=0),
    paper_bgcolor="white", plot_bgcolor="white",
    font=dict(family=FONT, size=80, color="black"),
    showlegend=False, barmode="group", bargap=0.2, bargroupgap=0.2,
    annotations=annotations, shapes=shapes,
    **layout_axes,
)

fig.write_html("out.html")
